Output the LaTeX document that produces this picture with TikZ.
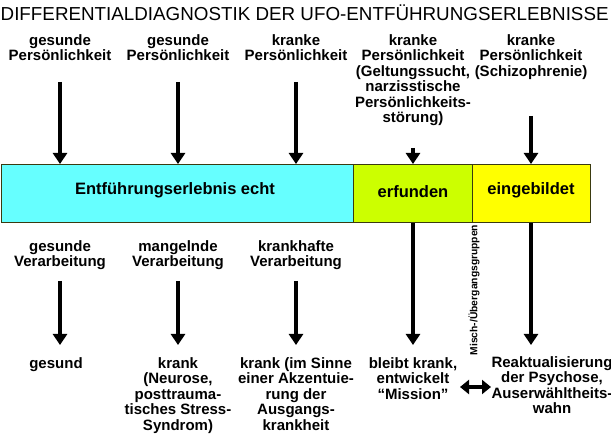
\documentclass[tikz,border=0pt]{standalone}
\usepackage{fontspec}
\setmainfont{Liberation Sans}
\usetikzlibrary{arrows.meta}
\definecolor{boxcyan}{HTML}{66FFFF}
\definecolor{boxgreen}{HTML}{CCFF00}
\definecolor{boxyellow}{HTML}{FFFF00}
\definecolor{boxedge}{HTML}{3A3A10}
\begin{document}
\begin{tikzpicture}[x=1pt,y=-1pt,
  lab/.style={align=center,font=\bfseries\fontsize{15}{15.5}\selectfont,inner sep=0pt,anchor=north},
  boxlab/.style={font=\bfseries\fontsize{16.5}{18}\selectfont,inner sep=0pt},
  part/.style={draw=boxedge,line width=1pt,inner sep=0pt},
  arr/.style={line width=3.5pt,-{Triangle[length=11pt,width=14pt]}},
  darr/.style={line width=3.5pt,{Triangle[length=9pt,width=14pt]}-{Triangle[length=9pt,width=14pt]}}]
\useasboundingbox (0,0) rectangle (611,438);
\fill[white] (0,0) rectangle (611,438);
% boxes
\node[part,fill=boxcyan,minimum width=352.5pt,minimum height=58pt,anchor=north west] (echt) at (0.5,164) {};
\node[part,fill=boxgreen,minimum width=119pt,minimum height=58pt,anchor=north west] (erf) at (353,164) {};
\node[part,fill=boxyellow,minimum width=118pt,minimum height=58pt,anchor=north west] (ein) at (472,164) {};
% arrow end points
\coordinate (s1) at (60,82);
\coordinate (s2) at (178,82);
\coordinate (s3) at (296,82);
\coordinate (s4) at (413,148);
\coordinate (s5) at (531,116);
\coordinate (u1) at (60,281);
\coordinate (u2) at (178,281);
\coordinate (u3) at (296,281);
\coordinate (v1) at (60,345);
\coordinate (v2) at (178,345);
\coordinate (v3) at (296,345);
\coordinate (v4) at (413,345);
\coordinate (v5) at (531,345);
\coordinate (da) at (460,387);
\coordinate (db) at (491,387);
% arrows
\draw[arr] (s1) -- (s1 |- echt.north);
\draw[arr] (s2) -- (s2 |- echt.north);
\draw[arr] (s3) -- (s3 |- echt.north);
\draw[arr] (s4) -- (s4 |- erf.north);
\draw[arr] (s5) -- (s5 |- ein.north);
\draw[arr] (u1) -- (v1);
\draw[arr] (u2) -- (v2);
\draw[arr] (u3) -- (v3);
\draw[arr] (v4 |- erf.south) -- (v4);
\draw[arr] (v5 |- ein.south) -- (v5);
\draw[darr] (da) -- (db);
% texts
\node[inner sep=0pt,anchor=west,font=\fontsize{18.8}{21}\selectfont] (title) at (0.5,13) {DIFFERENTIALDIAGNOSTIK DER UFO-ENTFÜHRUNGSERLEBNISSE};
\node[boxlab] (echtlab) at (175,190) {Entführungserlebnis echt};
\node[boxlab] (erflab) at (413,192) {erfunden};
\node[boxlab] (einlab) at (531,190) {eingebildet};
\node[lab] (t1) at (60,34) {gesunde\\Persönlichkeit};
\node[lab] (t2) at (178,34) {gesunde\\Persönlichkeit};
\node[lab] (t3) at (296,34) {kranke\\Persönlichkeit};
\node[lab] (t4) at (413,34) {kranke\\Persönlichkeit\\(Geltungssucht,\\narzisstische\\Persönlichkeits-\\störung)};
\node[lab] (t5) at (531,34) {kranke\\Persönlichkeit\\(Schizophrenie)};
\node[lab] (m1) at (60,240) {gesunde\\Verarbeitung};
\node[lab] (m2) at (178,240) {mangelnde\\Verarbeitung};
\node[lab] (m3) at (296,240) {krankhafte\\Verarbeitung};
\node[lab] (r1) at (56,357) {gesund};
\node[lab] (r2) at (178,357) {krank\\(Neurose,\\posttrauma-\\tisches Stress-\\Syndrom)};
\node[lab] (r3) at (296,357) {krank (im Sinne\\einer Akzentuie-\\rung der\\Ausgangs-\\krankheit};
\node[lab] (r4) at (413,357) {bleibt krank,\\entwickelt\\“Mission”};
\node[lab] (r5) at (552,356) {Reaktualisierung\\der Psychose,\\Auserwähltheits-\\wahn};
\node[rotate=90,inner sep=0pt,font=\bfseries\fontsize{10.3}{11}\selectfont] (misch) at (474,290) {Misch-/Übergangsgruppen};
\end{tikzpicture}
\end{document}
